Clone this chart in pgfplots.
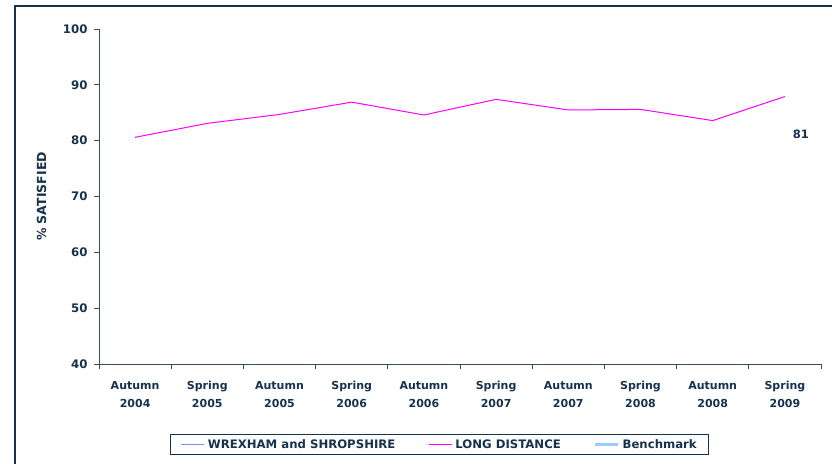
\documentclass[border=0pt]{standalone}
\usepackage{pgfplots}
\pgfplotsset{compat=1.18}
\usepackage{fontspec}
\setmainfont{DejaVu Sans}
\definecolor{navy}{HTML}{17324D}
\definecolor{axisc}{HTML}{3A4E63}
\definecolor{ldmag}{HTML}{FF00FF}
\definecolor{wsblue}{HTML}{7F8FFF}
\definecolor{bench}{HTML}{99CCFF}

\begin{document}
\begin{tikzpicture}[x=1pt,y=1pt]
\path[use as bounding box] (0,0) rectangle (832,463);
\draw[navy, line width=1.2pt] (15,-20) -- (15,457) -- (860,457);
\begin{axis}[
  at={(99pt,99pt)}, anchor=south west, scale only axis,
  width=722pt, height=335pt,
  xmin=-0.5, xmax=9.5, ymin=40, ymax=100,
  axis x line=bottom, axis y line=left,
  axis line style={-, axisc, line width=0.8pt},
  tick align=outside, major tick length=5pt, minor tick length=5pt,
  /pgf/number format/assume math mode=true,
  xtick={0,...,9},
  xticklabels={{Autumn\\2004},{Spring\\2005},{Autumn\\2005},{Spring\\2006},{Autumn\\2006},
               {Spring\\2007},{Autumn\\2007},{Spring\\2008},{Autumn\\2008},{Spring\\2009}},
  major x tick style={draw=none},
  minor xtick={-0.5,0.5,...,9.5},
  minor tick style={axisc, line width=0.8pt},
  ytick={40,50,...,100},
  ytick style={axisc, line width=0.8pt},
  xticklabel style={align=center, font=\bfseries\fontsize{11}{17.6}\selectfont, text=navy, yshift=-9pt},
  yticklabel style={font=\bfseries\fontsize{11.8}{13}\selectfont, text=navy, xshift=-3pt},
  ylabel={\% SATISFIED},
  ylabel style={at={(axis description cs:-0.0795,0.5)}, anchor=center,
                font=\bfseries\fontsize{12.5}{14}\selectfont, text=navy},
  legend columns=3,
  legend style={at={(axis description cs:0.4715,-0.2405)}, anchor=center,
                draw=navy, line width=0.8pt,
                font=\bfseries\fontsize{11.7}{13}\selectfont, text=navy,
                /tikz/every odd column/.append style={column sep=1pt},
                /tikz/every even column/.append style={column sep=31pt},
                inner xsep=10pt, inner ysep=3pt},
  legend image code/.code={\draw[#1] (0pt,0pt) -- (23pt,0pt);},
]
\addlegendimage{wsblue, line width=1.8pt}
\addlegendentry{WREXHAM and SHROPSHIRE}
\addplot[ldmag, line width=1pt] coordinates
  {(0,80.6)(1,83.1)(2,84.7)(3,86.9)(4,84.6)(5,87.4)(6,85.5)(7,85.6)(8,83.6)(9,87.9)};
\addlegendentry{LONG DISTANCE}
\addlegendimage{bench, line width=2.8pt}
\addlegendentry{Benchmark}
\node[font=\bfseries\fontsize{11.5}{13}\selectfont, text=navy] at (axis cs:9.22,81.2) {81};
\end{axis}
\end{tikzpicture}
\end{document}
